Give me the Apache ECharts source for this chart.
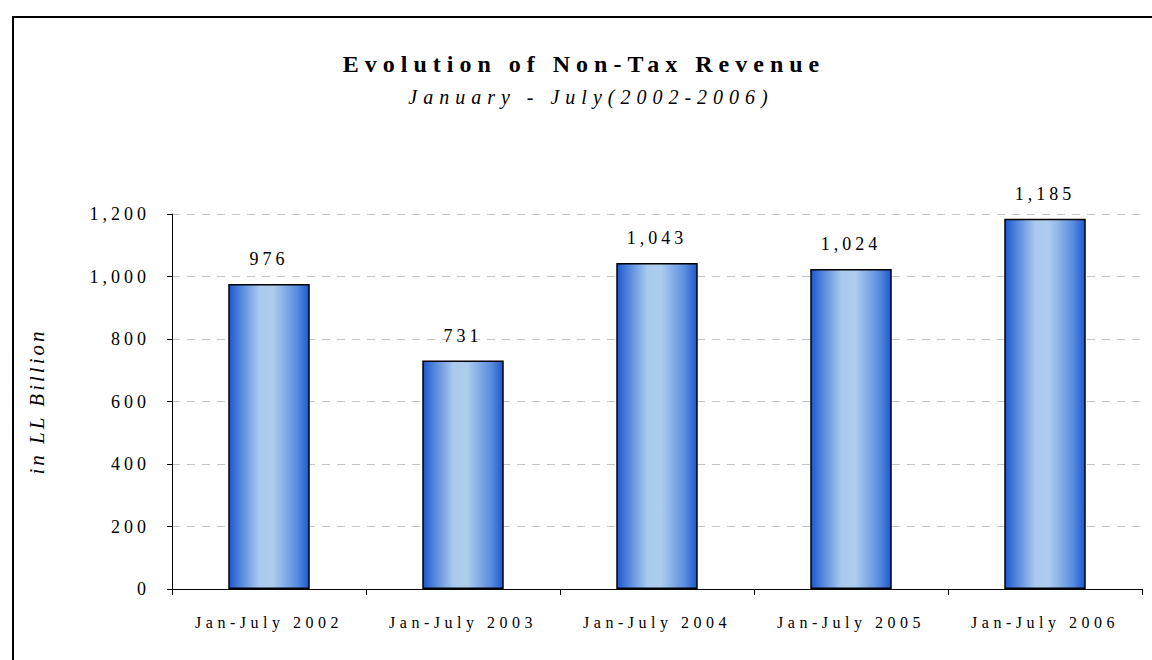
<!DOCTYPE html>
<html>
<head>
<meta charset="utf-8">
<script src="https://cdn.jsdelivr.net/npm/echarts@6/dist/echarts.min.js"></script>
<style>
  html, body { margin: 0; padding: 0; background: #fff; }
  #chart { width: 1152px; height: 660px; }
</style>
</head>
<body>
<div id="chart"></div>
<script>
// Non-tax revenue, January-July of each year, in LL billion
const periods = ['Jan-July 2002', 'Jan-July 2003', 'Jan-July 2004', 'Jan-July 2005', 'Jan-July 2006'];
const nonTaxRevenue = [976, 731, 1043, 1024, 1185];
const yTicks = [0, 200, 400, 600, 800, 1000, 1200];

const titleText = 'Evolution of Non-Tax Revenue';
const subtitleText = 'January - July(2002-2006)';
const yAxisName = 'in LL Billion';

const FONT = 'Liberation Serif';

// Wide tracking used for each text size
const trackingBySize = { 24: 6, 20: 6, 21: 3, 18: 4, 16: 4.5 };

const fmt = v => v.toLocaleString('en-US');

const chart = echarts.init(document.getElementById('chart'), null, { renderer: 'svg' });

const barFill = new echarts.graphic.LinearGradient(0, 0, 1, 0, [
  { offset: 0, color: '#1a58d0' },
  { offset: 0.12, color: '#4a7fda' },
  { offset: 0.38, color: '#a9caee' },
  { offset: 0.55, color: '#aecdee' },
  { offset: 0.85, color: '#5a8ddf' },
  { offset: 1, color: '#1b59cf' }
]);

chart.setOption({
  animation: false,
  backgroundColor: '#fff',
  textStyle: { fontFamily: FONT, color: '#000' },
  title: [{
    text: titleText,
    left: 584,
    top: 52,
    padding: 0,
    textAlign: 'center',
    textStyle: { fontFamily: FONT, fontSize: 24, fontWeight: 'bold', color: '#000' }
  }, {
    text: subtitleText,
    left: 591,
    top: 87,
    padding: 0,
    textAlign: 'center',
    textStyle: { fontFamily: FONT, fontSize: 20, fontStyle: 'italic', fontWeight: 'normal', color: '#000' }
  }],
  graphic: [{
    type: 'rect',
    silent: true,
    shape: { x: 13, y: 17, width: 1200, height: 700 },
    style: { fill: 'none', stroke: '#000', lineWidth: 2 }
  }],
  grid: { left: 172, right: 10, top: 214, bottom: 71, containLabel: false },
  xAxis: {
    type: 'category',
    data: periods,
    axisLine: { show: true, lineStyle: { color: '#000', width: 1 } },
    axisTick: { show: true, length: 6, lineStyle: { color: '#000' } },
    axisLabel: { fontFamily: FONT, fontSize: 16, color: '#000', margin: 25 }
  },
  yAxis: {
    type: 'value',
    min: yTicks[0],
    max: yTicks[yTicks.length - 1],
    interval: yTicks[1] - yTicks[0],
    name: yAxisName,
    nameLocation: 'middle',
    nameGap: 125,
    nameTextStyle: { fontFamily: FONT, fontSize: 21, fontStyle: 'italic', color: '#000' },
    axisLine: { show: true, lineStyle: { color: '#000', width: 1 } },
    axisTick: { show: true, length: 5, lineStyle: { color: '#000' } },
    axisLabel: { fontFamily: FONT, fontSize: 18, color: '#000', margin: 22, formatter: v => fmt(v) },
    splitLine: { show: true, lineStyle: { color: '#c4c4c4', width: 1, type: [8, 7] } }
  },
  series: [{
    type: 'bar',
    data: nonTaxRevenue,
    barCategoryGap: '58%',
    itemStyle: { color: barFill, borderColor: '#000', borderWidth: 1.5 },
    label: {
      show: true,
      position: 'top',
      distance: 16,
      fontFamily: FONT,
      fontSize: 18,
      color: '#000',
      formatter: p => fmt(p.value)
    }
  }]
});

// Apply letter tracking to the SVG text nodes after each render
function applyTracking() {
  document.querySelectorAll('#chart svg text').forEach(t => {
    const fs = Math.round(parseFloat(getComputedStyle(t).fontSize));
    const s = trackingBySize[fs];
    if (s != null) t.style.letterSpacing = s + 'px';
  });
}
chart.on('finished', applyTracking);
chart.on('rendered', applyTracking);
applyTracking();
new MutationObserver(applyTracking).observe(document.getElementById('chart'), { childList: true, subtree: true });
</script>
</body>
</html>
